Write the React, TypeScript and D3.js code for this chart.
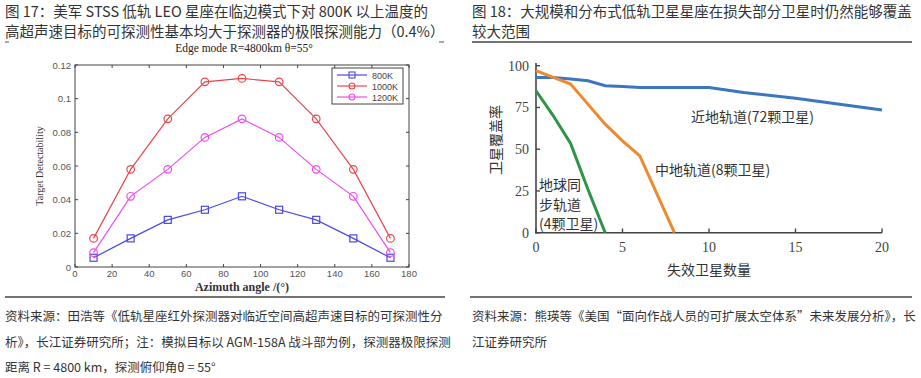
import React from "react";
import * as d3 from "d3";

const azimuth = [10, 30, 50, 70, 90, 110, 130, 150, 170];
const s800K = [0.0055, 0.017, 0.028, 0.034, 0.042, 0.034, 0.028, 0.017, 0.0055];
const s1000K = [0.017, 0.058, 0.088, 0.110, 0.112, 0.110, 0.088, 0.058, 0.017];
const s1200K = [0.0085, 0.042, 0.058, 0.077, 0.088, 0.077, 0.058, 0.042, 0.0085];
const leftXTicks = [0, 20, 40, 60, 80, 100, 120, 140, 160, 180];
const leftYTicks = [0, 0.02, 0.04, 0.06, 0.08, 0.1, 0.12];

const leoX = [0, 1, 2, 3, 4, 5, 6, 10, 12, 15, 20];
const leoY = [93, 93, 92, 91, 88, 87.5, 87, 87, 84, 80.5, 73.5];
const meoX = [0, 1, 2, 3, 4, 5, 6, 8];
const meoY = [97, 93, 89, 77, 65, 55, 46, 0];
const geoX = [0, 1, 2, 3, 4];
const geoY = [85, 70, 53.5, 26, 0];
const rightXTicks = [0, 5, 10, 15, 20];
const rightYTicks = [0, 25, 50, 75, 100];

const title17 = ["图 17：美军 STSS 低轨 LEO 星座在临边模式下对 800K 以上温度的", "高超声速目标的可探测性基本均大于探测器的极限探测能力（0.4%）"];
const title18 = ["图 18：大规模和分布式低轨卫星星座在损失部分卫星时仍然能够覆盖", "较大范围"];
const source17 = ["资料来源：田浩等《低轨星座红外探测器对临近空间高超声速目标的可探测性分", "析》，长江证券研究所；注：模拟目标以 AGM-158A 战斗部为例，探测器极限探测", "距离 R = 4800 km，探测俯仰角θ = 55°"];
const source18 = ["资料来源：熊瑛等《美国“面向作战人员的可扩展太空体系”未来发展分析》，长", "江证券研究所"];

const CJK = "'Noto Sans CJK SC', 'Noto Sans', sans-serif";
const SERIF = "'Liberation Serif', 'DejaVu Serif', serif";
const SANS = "'Liberation Sans', Arial, sans-serif";

function LeftChart() {
  const x = d3.scaleLinear().domain([0, 180]).range([75, 409]);
  const y = d3.scaleLinear().domain([0, 0.12]).range([267, 65]);
  const line = d3.line<number>().x((_, i) => x(azimuth[i])).y((d) => y(d));
  const series = [
    { name: "800K", data: s800K, color: "#4a4ae0", marker: "square" },
    { name: "1000K", data: s1000K, color: "#e8484c", marker: "circle" },
    { name: "1200K", data: s1200K, color: "#ee4cee", marker: "circle" },
  ];
  const marker = (m: string, cx: number, cy: number, color: string, key: any) =>
    m === "square" ? (
      <rect key={key} x={cx - 3.5} y={cy - 3.5} width={7} height={7} fill="none" stroke={color} strokeWidth={1.2} />
    ) : (
      <circle key={key} cx={cx} cy={cy} r={3.8} fill="none" stroke={color} strokeWidth={1.2} />
    );
  const fmt = (d: number) => (d === 0 ? "0" : String(+d.toFixed(2)));
  return (
    <g>
      <text x={244} y={52} textAnchor="middle" fontFamily={SERIF} fontSize={11.5} fill="#222">
        Edge mode R=4800km θ=55°
      </text>
      <rect x={75} y={65} width={334} height={202} fill="none" stroke="#444" strokeWidth={1} />
      {leftXTicks.map((t) => (
        <g key={"xt" + t}>
          <line x1={x(t)} x2={x(t)} y1={267} y2={264} stroke="#444" />
          <line x1={x(t)} x2={x(t)} y1={65} y2={68} stroke="#444" />
          <text x={x(t)} y={277} textAnchor="middle" fontFamily={SANS} fontSize={9.5} fill="#555">
            {t}
          </text>
        </g>
      ))}
      {leftYTicks.map((t) => (
        <g key={"yt" + t}>
          <line x1={75} x2={78} y1={y(t)} y2={y(t)} stroke="#444" />
          <line x1={409} x2={406} y1={y(t)} y2={y(t)} stroke="#444" />
          <text x={71} y={y(t) + 3.5} textAnchor="end" fontFamily={SANS} fontSize={9.5} fill="#555">
            {fmt(t)}
          </text>
        </g>
      ))}
      <text x={242} y={291} textAnchor="middle" fontFamily={SERIF} fontWeight="bold" fontSize={12} fill="#333">
        Azimuth angle /(°)
      </text>
      <text transform={`translate(43,166) rotate(-90)`} textAnchor="middle" fontFamily={SERIF} fontSize={10} fill="#333">
        Target Detectability
      </text>
      {series.map((s) => (
        <g key={s.name}>
          <path d={line(s.data) || ""} fill="none" stroke={s.color} strokeWidth={1.2} />
          {s.data.map((d, i) => marker(s.marker, x(azimuth[i]), y(d), s.color, i))}
        </g>
      ))}
      <rect x={332} y={68} width={71} height={36} fill="#fff" stroke="#444" strokeWidth={1} />
      {series.map((s, i) => (
        <g key={"lg" + s.name}>
          <line x1={337} x2={367} y1={75 + i * 11} y2={75 + i * 11} stroke={s.color} strokeWidth={1.2} />
          {s.marker === "square" ? (
            <rect x={349} y={72 + i * 11} width={6} height={6} fill="none" stroke={s.color} strokeWidth={1.1} />
          ) : (
            <circle cx={352} cy={75 + i * 11} r={3} fill="none" stroke={s.color} strokeWidth={1.1} />
          )}
          <text x={372} y={78.5 + i * 11} fontFamily={SANS} fontSize={9} fill="#444">
            {s.name}
          </text>
        </g>
      ))}
    </g>
  );
}

function RightChart() {
  const x = d3.scaleLinear().domain([0, 20]).range([536, 882]);
  const y = d3.scaleLinear().domain([0, 100]).range([232.7, 65.7]);
  const mk = (xs: number[], ys: number[]) =>
    d3.line<number>().x((d) => x(d)).y((_, i) => y(ys[i]))(xs) || "";
  return (
    <g>
      <line x1={536} x2={536} y1={63} y2={233.5} stroke="#444" strokeWidth={1.6} />
      <line x1={535} x2={882} y1={232.7} y2={232.7} stroke="#444" strokeWidth={1.6} />
      {rightYTicks.map((t) => (
        <g key={"ry" + t}>
          <line x1={536} x2={540} y1={y(t)} y2={y(t)} stroke="#444" strokeWidth={1.4} />
          <text x={529} y={y(t) + 5} textAnchor="end" fontFamily={SERIF} fontSize={14} fill="#444">
            {t}
          </text>
        </g>
      ))}
      {rightXTicks.map((t) => (
        <g key={"rx" + t}>
          <line x1={x(t)} x2={x(t)} y1={232.7} y2={228.5} stroke="#444" strokeWidth={1.4} />
          <text x={x(t)} y={252} textAnchor="middle" fontFamily={SERIF} fontSize={14} fill="#444">
            {t}
          </text>
        </g>
      ))}
      <text x={709} y={275} textAnchor="middle" fontFamily={CJK} fontSize={14} fill="#333">
        失效卫星数量
      </text>
      <text transform={`translate(495,140) rotate(-90)`} textAnchor="middle" dominantBaseline="central" fontFamily={CJK} fontSize={14} fill="#333">
        卫星覆盖率
      </text>
      <path d={mk(leoX, leoY)} fill="none" stroke="#3b76c0" strokeWidth={3} />
      <path d={mk(meoX, meoY)} fill="none" stroke="#ee8a2c" strokeWidth={3} />
      <path d={mk(geoX, geoY)} fill="none" stroke="#2e9448" strokeWidth={3} />
      <text x={691} y={122} fontFamily={CJK} fontSize={14} fill="#333">
        近地轨道(72颗卫星)
      </text>
      <text x={655} y={175} fontFamily={CJK} fontSize={14} fill="#333">
        中地轨道(8颗卫星)
      </text>
      {["地球同", "步轨道", "(4颗卫星)"].map((t, i) => (
        <text key={t} x={539} y={190 + i * 19.5} fontFamily={CJK} fontSize={14} fill="#333">
          {t}
        </text>
      ))}
    </g>
  );
}

export default function App() {
  return (
    <svg width={921} height={378} style={{ position: "absolute", left: 0, top: 0, background: "#fff" }}>
      <rect x={0} y={0} width={921} height={378} fill="#fff" />
      {title17.map((t, i) => (
        <text key={t} x={5} y={17 + i * 20} fontFamily={CJK} fontSize={14.5} fill="#333">
          {t}
        </text>
      ))}
      {title18.map((t, i) => (
        <text key={t} x={472} y={17 + i * 20} fontFamily={CJK} fontSize={14.5} fill="#333">
          {t}
        </text>
      ))}
      <line x1={5} x2={9} y1={42} y2={42} stroke="#555" strokeWidth={1} />
      <line x1={439} x2={444} y1={42} y2={42} stroke="#555" strokeWidth={1} />
      <line x1={472} x2={912} y1={42} y2={42} stroke="#444" strokeWidth={1.5} />
      <LeftChart />
      <RightChart />
      <line x1={5} x2={445} y1={297} y2={297} stroke="#444" strokeWidth={1.5} />
      <line x1={470} x2={912} y1={297} y2={297} stroke="#444" strokeWidth={1.5} />
      {source17.map((t, i) => (
        <text key={t} x={5} y={321 + i * 25.5} fontFamily={CJK} fontSize={12.5} fill="#333">
          {t}
        </text>
      ))}
      {source18.map((t, i) => (
        <text key={t} x={472} y={321 + i * 25.5} fontFamily={CJK} fontSize={12.5} fill="#333">
          {t}
        </text>
      ))}
    </svg>
  );
}
